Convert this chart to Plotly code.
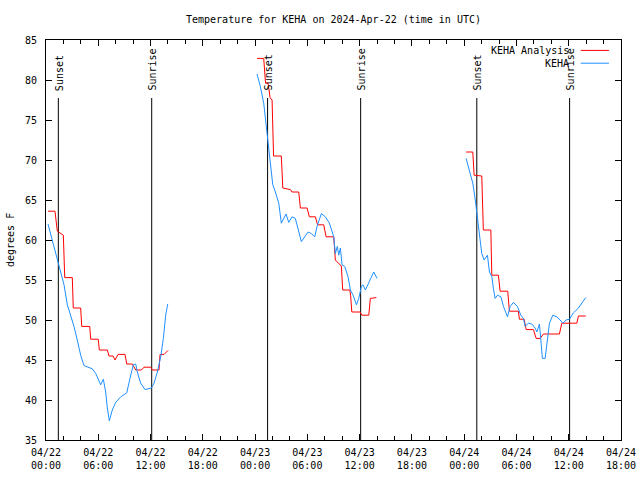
import plotly.graph_objects as go
import pandas as pd

BASE = pd.Timestamp("2024-04-22 00:00")

# ---- KEHA Analysis (red), hours since 04/22 00:00 UTC and deg F ----
red_d1_h = [0.23, 1.03, 1.30, 1.99, 2.15, 3.02, 3.13, 3.98, 4.10, 5.02, 5.13, 6.00, 6.12, 7.04,
            7.23, 7.69, 7.92, 8.27, 9.07, 9.27, 9.91, 10.30, 10.94, 11.25, 12.02, 12.20, 12.97,
            13.09, 13.55, 14.01]
red_d1_t = [63.6, 63.6, 61.1, 60.6, 55.3, 55.3, 51.5, 51.5, 49.2, 49.2, 47.6, 47.6, 46.25, 46.25,
            45.5, 45.5, 45.0, 45.7, 45.7, 44.5, 44.5, 43.75, 43.75, 44.1, 44.1, 43.75, 43.75,
            45.7, 45.7, 46.2]
red_d2_h = [24.22, 24.99, 25.20, 25.49, 25.72, 25.95, 26.12, 27.01, 27.18, 28.05, 28.24, 29.01,
            29.20, 29.97, 30.23, 30.92, 31.17, 31.88, 32.15, 33.03, 33.21, 33.90, 34.06, 34.87,
            34.96, 35.10, 36.05, 36.25, 37.05, 37.23, 37.92]
red_d2_t = [82.7, 82.7, 79.6, 79.6, 77.8, 77.5, 70.5, 70.5, 66.5, 66.3, 66.0, 66.0,
            64.0, 64.0, 62.9, 62.9, 61.9, 61.9, 60.4, 60.4, 57.5, 56.75, 53.75, 53.75,
            53.1, 51.0, 51.0, 50.6, 50.6, 52.7, 52.8]
red_d3_h = [48.22, 48.99, 49.14, 50.02, 50.20, 51.06, 51.17, 51.93, 52.12, 53.00, 53.19, 54.22,
            54.34, 54.88, 55.11, 55.95, 56.26, 56.72, 57.10, 58.93, 59.21, 60.93, 61.11, 61.96]
red_d3_t = [71.0, 71.0, 68.1, 68.0, 61.25, 61.25, 55.6, 55.6, 53.6, 53.6, 51.1, 51.1,
            50.1, 50.1, 48.8, 48.8, 47.7, 47.7, 48.25, 48.25, 49.6, 49.6, 50.5, 50.5]

# ---- KEHA observations (blue) ----
blue_d1_h = [0.23, 1.30, 2.07, 2.45, 2.84, 3.21, 3.59, 3.98, 4.36, 4.94, 5.32, 5.71, 6.08, 6.28,
             6.58, 6.85, 7.04, 7.27, 7.61, 8.00, 8.58, 9.27, 9.64, 10.02, 10.30, 10.48, 10.87,
             11.37, 12.09, 12.40, 12.78, 13.17, 13.47, 13.74, 13.97]
blue_d1_t = [62.0, 57.7, 54.4, 51.9, 50.6, 49.2, 47.5, 45.6, 44.3, 44.0, 43.9, 43.3, 42.5, 41.9,
             42.6, 41.0, 39.0, 37.4, 38.75, 39.7, 40.4, 40.9, 42.7, 44.4, 44.5, 43.5, 42.1,
             41.3, 41.5, 42.1, 43.5, 45.4, 47.7, 50.6, 52.0]
blue_d2_h = [24.22, 24.60, 24.99, 25.17, 25.37, 25.49, 25.75, 26.03, 26.33, 26.72, 27.01, 27.29,
             27.55, 27.86, 28.24, 28.62, 29.01, 29.31, 29.70, 30.08, 30.46, 30.85, 31.11, 31.61,
             32.07, 32.53, 33.03, 33.21, 33.44, 33.60, 33.79, 33.98, 34.29, 34.67, 34.94, 35.25,
             35.63, 35.90, 36.20, 36.39, 36.66, 37.05, 37.62, 38.00]
blue_d2_t = [80.75, 79.2, 77.1, 75.4, 73.5, 72.1, 70.0, 66.9, 66.0, 64.6, 62.1, 62.7,
             63.25, 62.2, 62.9, 62.7, 61.0, 59.8, 60.4, 61.0, 60.8, 60.4, 61.7, 63.3,
             62.9, 62.1, 60.4, 58.3, 59.2, 58.1, 59.0, 56.9, 56.7, 55.4, 53.75, 53.1,
             51.9, 52.7, 54.2, 54.4, 53.75, 54.6, 56.0, 55.2]
blue_d3_h = [48.22, 48.60, 48.99, 49.25, 49.45, 49.63, 49.83, 50.02, 50.29, 50.52, 50.67, 50.90,
             51.18, 51.36, 51.55, 51.82, 52.21, 52.51, 52.97, 53.28, 53.65, 54.11, 54.50, 54.80,
             54.99, 55.37, 55.76, 56.14, 56.34, 56.64, 56.83, 56.98, 57.29, 57.56, 57.79, 58.17,
             58.63, 59.01, 59.32, 59.70, 60.08, 60.54, 61.12, 61.62, 61.96]
blue_d3_t = [70.2, 68.5, 67.1, 65.2, 63.5, 61.5, 59.6, 58.3, 57.5, 57.9, 58.1, 56.0,
             55.4, 53.9, 52.7, 53.1, 52.9, 51.7, 50.4, 51.7, 52.2, 51.7, 50.6, 50.2,
             49.2, 49.6, 49.5, 49.0, 48.5, 49.5, 46.7, 45.2, 45.2, 47.5, 49.6, 50.6,
             50.4, 50.0, 49.6, 50.0, 50.1, 50.9, 51.5, 52.3, 52.8]

sunset_times = ["2024-04-22 01:25", "2024-04-23 01:26", "2024-04-24 01:27"]
sunrise_times = ["2024-04-22 12:08", "2024-04-23 12:07", "2024-04-24 12:06"]

tick_times = ["2024-04-22 00:00", "2024-04-22 06:00", "2024-04-22 12:00", "2024-04-22 18:00",
              "2024-04-23 00:00", "2024-04-23 06:00", "2024-04-23 12:00", "2024-04-23 18:00",
              "2024-04-24 00:00", "2024-04-24 06:00", "2024-04-24 12:00", "2024-04-24 18:00"]
tick_labels = ["04/22<br>00:00", "04/22<br>06:00", "04/22<br>12:00", "04/22<br>18:00",
               "04/23<br>00:00", "04/23<br>06:00", "04/23<br>12:00", "04/23<br>18:00",
               "04/24<br>00:00", "04/24<br>06:00", "04/24<br>12:00", "04/24<br>18:00"]
y_ticks = [35, 40, 45, 50, 55, 60, 65, 70, 75, 80, 85]

FONT = "DejaVu Sans Mono"


def to_dt(hours):
    return [BASE + pd.Timedelta(hours=h) for h in hours]


def join(*parts):
    out = []
    for i, p in enumerate(parts):
        if i:
            out.append(None)
        out.extend(p)
    return out


x_red = join(to_dt(red_d1_h), to_dt(red_d2_h), to_dt(red_d3_h))
y_red = join(red_d1_t, red_d2_t, red_d3_t)
x_blue = join(to_dt(blue_d1_h), to_dt(blue_d2_h), to_dt(blue_d3_h))
y_blue = join(blue_d1_t, blue_d2_t, blue_d3_t)

fig = go.Figure()
fig.add_trace(go.Scatter(x=x_red, y=y_red, mode="lines", name="KEHA Analysis",
                         line=dict(color="#ff0000", width=1), connectgaps=False))
fig.add_trace(go.Scatter(x=x_blue, y=y_blue, mode="lines", name="KEHA",
                         line=dict(color="#1e90ff", width=1), connectgaps=False))

shapes = []
annotations = []
for t in sunset_times:
    shapes.append(dict(type="line", xref="x", yref="paper", x0=t, x1=t, y0=0, y1=0.855,
                       line=dict(color="black", width=1), layer="below"))
    annotations.append(dict(x=t, xref="x", y=0.868, yref="paper", text="Sunset", textangle=-90,
                            showarrow=False, xanchor="center", yanchor="bottom", xshift=1,
                            font=dict(family=FONT, size=10, color="black")))
for t in sunrise_times:
    shapes.append(dict(type="line", xref="x", yref="paper", x0=t, x1=t, y0=0, y1=0.855,
                       line=dict(color="black", width=1), layer="below"))
    annotations.append(dict(x=t, xref="x", y=0.868, yref="paper", text="Sunrise", textangle=-90,
                            showarrow=False, xanchor="center", yanchor="bottom", xshift=1,
                            font=dict(family=FONT, size=10, color="black")))

# legend (gnuplot style: text right-aligned, sample to the right)
leg = [("KEHA Analysis", "#ff0000", 0.974), ("KEHA", "#1e90ff", 0.942)]
for name, col, yy in leg:
    annotations.append(dict(x=0.913, xref="paper", y=yy, yref="paper", text=name,
                            showarrow=False, xanchor="right", yanchor="middle",
                            font=dict(family=FONT, size=10, color="black")))
    shapes.append(dict(type="line", xref="paper", yref="paper", x0=0.930, x1=0.979,
                       y0=yy, y1=yy, line=dict(color=col, width=1)))

annotations.append(dict(x=-0.0626, xref="paper", y=0.5, yref="paper", text="degrees F",
                        textangle=-90, showarrow=False, xanchor="center", yanchor="middle",
                        font=dict(family=FONT, size=10, color="black")))

fig.update_layout(
    width=640, height=480,
    margin=dict(l=46, r=19, t=40, b=40, autoexpand=False),
    paper_bgcolor="white", plot_bgcolor="white",
    showlegend=False,
    font=dict(family=FONT, size=10, color="black"),
    title=dict(text="Temperature for KEHA on 2024-Apr-22 (time in UTC)", x=0.5, xref="paper",
               xanchor="center", y=1 - 19 / 480, yanchor="middle",
               font=dict(family=FONT, size=10, color="black")),
    shapes=shapes, annotations=annotations,
)
fig.update_xaxes(type="date", range=["2024-04-22 00:00", "2024-04-24 18:00"],
                 tickvals=tick_times, ticktext=tick_labels, ticks="inside", ticklen=6,
                 tickcolor="black", showline=True, linecolor="black", linewidth=1,
                 mirror="ticks", showgrid=False, zeroline=False, ticklabelstandoff=3,
                 minor=dict(dtick=2 * 3600 * 1000, tick0="2024-04-22 00:00", ticks="inside",
                            ticklen=4, tickcolor="black", showgrid=False),
                 tickfont=dict(family=FONT, size=10, color="black"))
fig.update_yaxes(range=[35, 85], tickvals=y_ticks, ticks="inside", ticklen=6, tickcolor="black",
                 showline=True, linecolor="black", linewidth=1, mirror="ticks",
                 showgrid=False, zeroline=False, ticklabelstandoff=6,
                 tickfont=dict(family=FONT, size=10, color="black"))

fig.write_html("out.html", config={"displayModeBar": False},
               post_script="document.body.style.margin='0';document.body.style.overflow='hidden';")
